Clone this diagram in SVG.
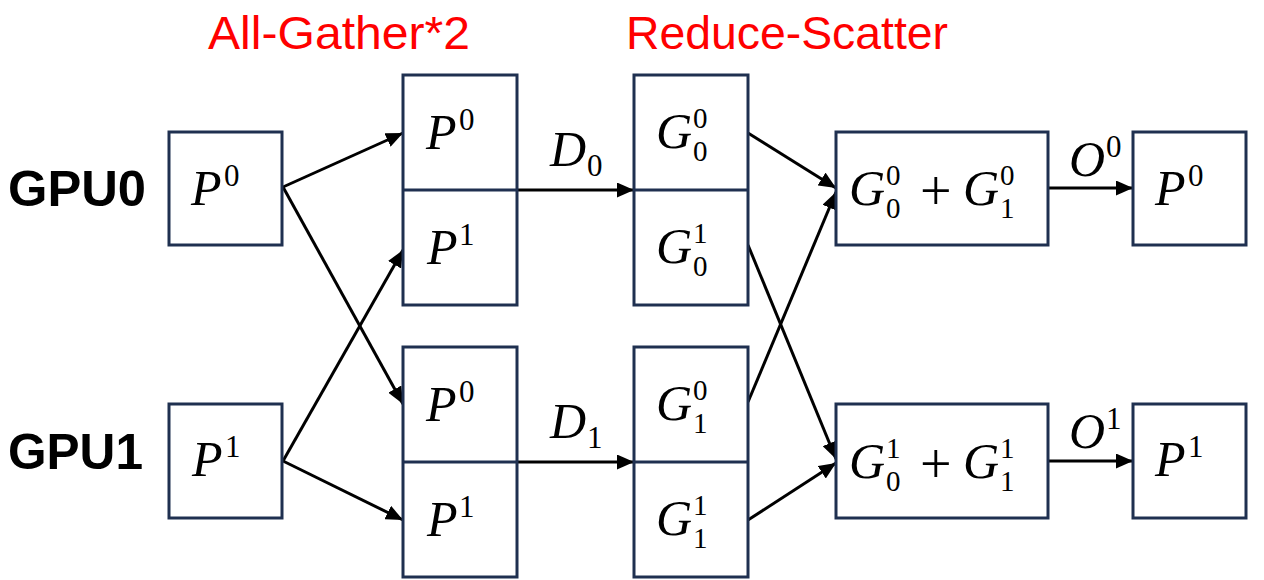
<svg xmlns="http://www.w3.org/2000/svg" width="1264" height="580" viewBox="0 0 1264 580">
<style>
.box{fill:#fff;stroke:#1F3050;stroke-width:3}
.div{stroke:#1F3050;stroke-width:3}
.con{stroke:#000;stroke-width:3;fill:none;marker-end:url(#ah)}
.m{font-family:"Liberation Serif",serif;font-style:italic;font-size:50px;fill:#000}
.s{font-family:"Liberation Serif",serif;font-style:normal;font-size:31px;fill:#000}
.g{font-family:"Liberation Serif",serif;font-style:normal;font-size:29px;fill:#000}
.pl{font-family:"Liberation Serif",serif;font-size:56px;fill:#000}
.gpu{font-family:"Liberation Sans",Arial,sans-serif;font-weight:bold;font-size:50px;fill:#000}
.title{font-family:"Liberation Sans",Arial,sans-serif;font-size:46px;fill:#FF0000}
</style>
<defs>
<marker id="ah" markerUnits="userSpaceOnUse" markerWidth="18" markerHeight="15" refX="17" refY="7.5" orient="auto">
<path d="M0,0 L17,7.5 L0,15 Z" fill="#000"/>
</marker>
</defs>
<rect width="1264" height="580" fill="#fff"/>
<g id="titles">
<text class="title" x="208" y="49" textLength="262" lengthAdjust="spacingAndGlyphs">All-Gather*2</text>
<text class="title" x="626" y="49" textLength="322" lengthAdjust="spacingAndGlyphs">Reduce-Scatter</text>
</g>
<g id="gpu-labels">
<text class="gpu" x="8" y="206" textLength="138" lengthAdjust="spacingAndGlyphs">GPU0</text>
<text class="gpu" x="8" y="469" textLength="135" lengthAdjust="spacingAndGlyphs">GPU1</text>
</g>
<g id="connectors">
<line class="con" x1="283" y1="187" x2="403" y2="133"/>
<line class="con" x1="283" y1="187" x2="403" y2="404"/>
<line class="con" x1="283" y1="461" x2="403" y2="250"/>
<line class="con" x1="283" y1="461" x2="403" y2="520"/>
<line class="con" x1="517" y1="190" x2="634" y2="190"/>
<line class="con" x1="517" y1="462" x2="634" y2="462"/>
<line class="con" x1="748" y1="133" x2="836" y2="188"/>
<line class="con" x1="748" y1="245" x2="836" y2="459"/>
<line class="con" x1="748" y1="402" x2="836" y2="192"/>
<line class="con" x1="748" y1="520" x2="836" y2="463"/>
<line class="con" x1="1048" y1="188" x2="1133" y2="188"/>
<line class="con" x1="1048" y1="461" x2="1133" y2="461"/>
<text class="m" x="550" y="166">D<tspan class="s" x="587" y="176">0</tspan></text>
<text class="m" x="550" y="438">D<tspan class="s" x="587" y="448">1</tspan></text>
<text class="m" x="1069" y="176">O<tspan class="s" x="1106" y="157">0</tspan></text>
<text class="m" x="1069" y="448">O<tspan class="s" x="1106" y="429">1</tspan></text>
</g>
<g id="gpu0-p">
<rect class="box" x="169" y="132" width="113" height="113"/>
<text class="m" x="191" y="205">P<tspan class="s" x="224" y="186">0</tspan></text>
</g>
<g id="gpu1-p">
<rect class="box" x="169" y="404" width="113" height="114"/>
<text class="m" x="192" y="476">P<tspan class="s" x="225" y="457">1</tspan></text>
</g>
<g id="gpu0-gathered">
<rect class="box" x="403" y="75" width="114" height="230"/>
<line class="div" x1="403" y1="190" x2="517" y2="190"/>
<text class="m" x="426" y="149">P<tspan class="s" x="459" y="130">0</tspan></text>
<text class="m" x="427" y="264">P<tspan class="s" x="459" y="245">1</tspan></text>
</g>
<g id="gpu1-gathered">
<rect class="box" x="403" y="347" width="114" height="230"/>
<line class="div" x1="403" y1="462" x2="517" y2="462"/>
<text class="m" x="426" y="421">P<tspan class="s" x="459" y="402">0</tspan></text>
<text class="m" x="427" y="536">P<tspan class="s" x="459" y="517">1</tspan></text>
</g>
<g id="gpu0-grads">
<rect class="box" x="634" y="75" width="114" height="230"/>
<line class="div" x1="634" y1="190" x2="748" y2="190"/>
<text class="m" x="656" y="148">G<tspan class="g" x="693" y="128">0</tspan><tspan class="g" x="693" y="161">0</tspan></text>
<text class="m" x="656" y="263">G<tspan class="g" x="693" y="243">1</tspan><tspan class="g" x="693" y="276">0</tspan></text>
</g>
<g id="gpu1-grads">
<rect class="box" x="634" y="347" width="114" height="230"/>
<line class="div" x1="634" y1="462" x2="748" y2="462"/>
<text class="m" x="656" y="420">G<tspan class="g" x="693" y="400">0</tspan><tspan class="g" x="693" y="433">1</tspan></text>
<text class="m" x="656" y="535">G<tspan class="g" x="693" y="515">1</tspan><tspan class="g" x="693" y="548">1</tspan></text>
</g>
<g id="gpu0-sum">
<rect class="box" x="836" y="132" width="212" height="113"/>
<text class="m" x="849" y="205">G<tspan class="g" x="886" y="185">0</tspan><tspan class="g" x="886" y="218">0</tspan></text>
<text class="pl" x="920" y="210">+</text>
<text class="m" x="963" y="205">G<tspan class="g" x="1000" y="185">0</tspan><tspan class="g" x="1000" y="218">1</tspan></text>
</g>
<g id="gpu1-sum">
<rect class="box" x="836" y="404" width="212" height="114"/>
<text class="m" x="849" y="478">G<tspan class="g" x="886" y="458">1</tspan><tspan class="g" x="886" y="491">0</tspan></text>
<text class="pl" x="920" y="483">+</text>
<text class="m" x="963" y="478">G<tspan class="g" x="1000" y="458">1</tspan><tspan class="g" x="1000" y="491">1</tspan></text>
</g>
<g id="gpu0-out">
<rect class="box" x="1133" y="132" width="113" height="113"/>
<text class="m" x="1155" y="205">P<tspan class="s" x="1188" y="186">0</tspan></text>
</g>
<g id="gpu1-out">
<rect class="box" x="1133" y="404" width="113" height="114"/>
<text class="m" x="1155" y="476">P<tspan class="s" x="1188" y="457">1</tspan></text>
</g>
</svg>
